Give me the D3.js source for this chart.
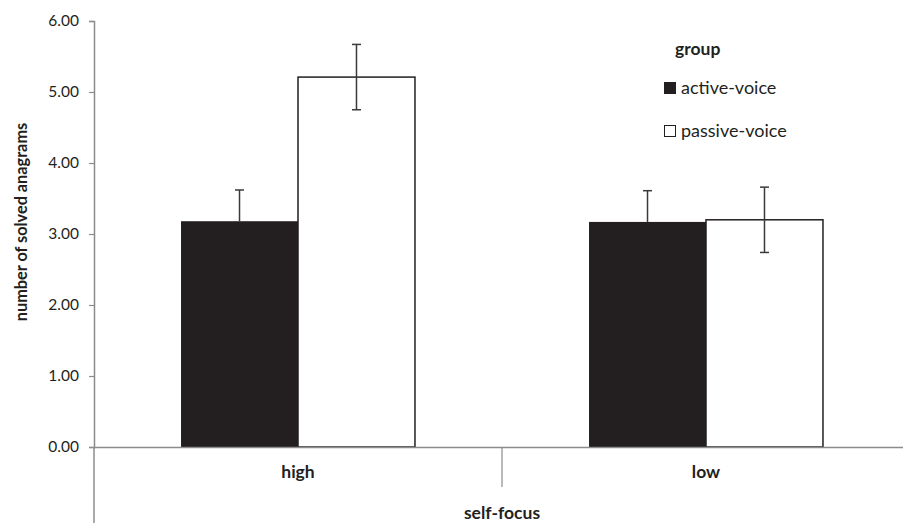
<!DOCTYPE html>
<html>
<head>
<meta charset="utf-8">
<script src="https://cdn.jsdelivr.net/npm/d3@7"></script>
<style>
  html, body { margin: 0; padding: 0; background: #fff; }
  svg { display: block; font-family: Lato, "Open Sans", sans-serif; }
</style>
</head>
<body>
<svg id="chart" width="903" height="523"></svg>
<script>
// Mean solved anagrams by self-focus condition and group, with error bars
const categories = ["high", "low"];
const groups = ["active-voice", "passive-voice"];
const activeValues = [3.18, 3.17];
const passiveValues = [5.21, 3.20];
const activeErrors = [0.44, 0.44];
const passiveErrors = [0.46, 0.46];
const yTicks = [0, 1, 2, 3, 4, 5, 6];
const groupFills = ["#231f20", "#ffffff"];

const svg = d3.select("#chart");
const ink = "#231f20";
const axisGrey = "#8c8c8c";

const plotLeft = 94, plotRight = 910, plotTop = 21, plotBottom = 447;

const y = d3.scaleLinear().domain([0, 6]).range([plotBottom, plotTop]);
const x0 = d3.scaleBand().domain(categories).range([plotLeft, plotRight]).paddingInner(0).paddingOuter(0);
const x1 = d3.scaleBand().domain(groups).range([0, x0.bandwidth()]).paddingInner(0).paddingOuter(0.744);

// Y axis
const yAxis = d3.axisLeft(y).tickValues(yTicks).tickFormat(d3.format(".2f")).tickSize(5).tickPadding(10);
const gy = svg.append("g").attr("transform", `translate(${plotLeft},0)`).call(yAxis);
gy.select(".domain").attr("stroke", axisGrey).attr("stroke-width", 1.5);
gy.selectAll(".tick line").attr("stroke", axisGrey).attr("stroke-width", 1.2);
gy.selectAll(".tick text").attr("fill", ink).attr("font-size", 15.5).attr("font-family", "Lato, sans-serif");

// Left frame continues below the axis for the category label area
svg.append("line").attr("x1", plotLeft).attr("x2", plotLeft).attr("y1", plotBottom).attr("y2", 523)
  .attr("stroke", axisGrey).attr("stroke-width", 1.5);

// Bars
const data = categories.map((c, i) => ({
  cat: c,
  items: [
    { g: groups[0], v: activeValues[i], e: activeErrors[i] },
    { g: groups[1], v: passiveValues[i], e: passiveErrors[i] }
  ]
}));

const color = d3.scaleOrdinal().domain(groups).range(groupFills);

const catG = svg.selectAll("g.cat").data(data).enter().append("g")
  .attr("class", "cat")
  .attr("transform", d => `translate(${x0(d.cat)},0)`);

catG.selectAll("rect").data(d => d.items).enter().append("rect")
  .attr("x", d => x1(d.g))
  .attr("y", d => y(d.v))
  .attr("width", x1.bandwidth())
  .attr("height", d => y(0) - y(d.v))
  .attr("fill", d => color(d.g))
  .attr("stroke", d => d.g === groups[1] ? ink : "none")
  .attr("stroke-width", 1.5);

// Error bars
const cap = 4.5;
const eb = catG.selectAll("g.err").data(d => d.items).enter().append("g").attr("class", "err");
eb.append("line")
  .attr("x1", d => x1(d.g) + x1.bandwidth() / 2)
  .attr("x2", d => x1(d.g) + x1.bandwidth() / 2)
  .attr("y1", d => y(d.v + d.e))
  .attr("y2", d => d.g === groups[0] ? y(d.v) : y(d.v - d.e))
  .attr("stroke", "#3a3a3a").attr("stroke-width", 1.5);
eb.append("line")
  .attr("x1", d => x1(d.g) + x1.bandwidth() / 2 - cap)
  .attr("x2", d => x1(d.g) + x1.bandwidth() / 2 + cap)
  .attr("y1", d => y(d.v + d.e)).attr("y2", d => y(d.v + d.e))
  .attr("stroke", "#3a3a3a").attr("stroke-width", 1.5);
eb.filter(d => d.g === groups[1]).append("line")
  .attr("x1", d => x1(d.g) + x1.bandwidth() / 2 - cap)
  .attr("x2", d => x1(d.g) + x1.bandwidth() / 2 + cap)
  .attr("y1", d => y(d.v - d.e)).attr("y2", d => y(d.v - d.e))
  .attr("stroke", "#3a3a3a").attr("stroke-width", 1.5);

// X axis
const xAxis = d3.axisBottom(x0).tickSize(0).tickPadding(19);
const gx = svg.append("g").attr("transform", `translate(0,${plotBottom})`).call(xAxis);
gx.select(".domain").attr("stroke", axisGrey).attr("stroke-width", 1.5);
gx.selectAll(".tick text").attr("fill", ink).attr("font-size", 17.5).attr("font-weight", "bold")
  .attr("font-family", "Lato, sans-serif");

// Divider between categories
svg.append("line")
  .attr("x1", x0("low")).attr("x2", x0("low"))
  .attr("y1", plotBottom).attr("y2", 487)
  .attr("stroke", axisGrey).attr("stroke-width", 1.2);

// Axis titles
svg.append("text")
  .attr("x", x0("low")).attr("y", 519)
  .attr("text-anchor", "middle")
  .attr("font-size", 17.5).attr("font-weight", "bold").attr("fill", ink)
  .text("self-focus");

svg.append("text")
  .attr("transform", `translate(27,222) rotate(-90)`)
  .attr("text-anchor", "middle")
  .attr("font-size", 16.3).attr("font-weight", "bold").attr("fill", ink)
  .text("number of solved anagrams");

// Legend
const legend = svg.append("g").attr("transform", "translate(664,0)");
legend.append("text").attr("x", 11).attr("y", 55)
  .attr("font-size", 17.5).attr("font-weight", "bold").attr("fill", ink).text("group");
const li = legend.selectAll("g.item").data(groups).enter().append("g")
  .attr("class", "item")
  .attr("transform", (d, i) => `translate(0,${82 + i * 43})`);
li.append("rect").attr("x", 0.5).attr("y", 0.5).attr("width", 11).attr("height", 11)
  .attr("fill", d => color(d)).attr("stroke", ink).attr("stroke-width", 1);
li.append("text").attr("x", 17).attr("y", 11.5)
  .attr("font-size", 18).attr("fill", ink).text(d => d);
</script>
</body>
</html>
